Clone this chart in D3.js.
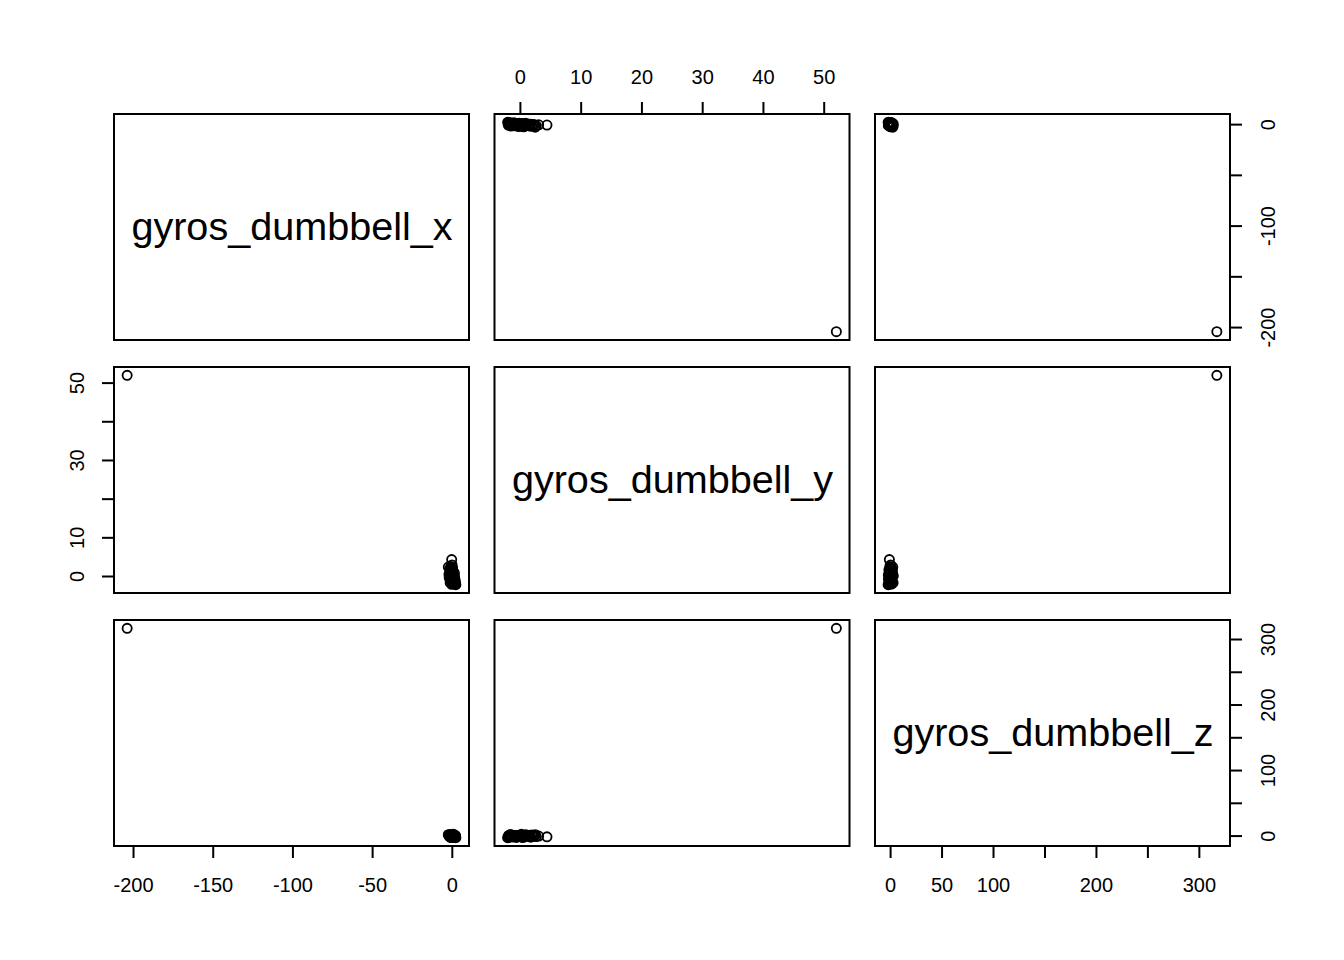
<!DOCTYPE html>
<html>
<head>
<meta charset="utf-8">
<script src="https://cdn.jsdelivr.net/npm/d3@7"></script>
<style>
html,body{margin:0;padding:0;background:#fff;}
svg{display:block;}
text{font-family:"Liberation Sans",Arial,Helvetica,sans-serif;fill:#000;}
</style>
</head>
<body>
<svg id="chart" width="1344" height="960"></svg>
<script>
// ---- data ----
const varNames = ["gyros_dumbbell_x", "gyros_dumbbell_y", "gyros_dumbbell_z"];
const gyrosX = [-204.00, -0.40, 0.00, 0.13, -0.21, 0.45, -0.53, 0.82, -0.90, 1.21, -1.31, 1.64, -1.70, 2.22, -2.50,
  0.35, -0.64, 1.02, -1.12, 0.58, -0.27, 1.45, -1.55, 0.08, 0.70, -0.95, 1.85, -1.95, 0.25, -0.45,
  1.30, -1.35, 0.95, -0.15, 1.70, -2.10, 0.50, -0.80, 2.00, -0.35, 0.15, 1.10, -0.02, 0.31, -0.12];
const gyrosY = [52.00, 4.37, 0.00, -0.16, 0.29, -0.52, 0.61, -0.88, 1.02, -1.35, 1.48, -1.72, 1.90, -2.10, 2.45,
  0.72, -0.48, 0.36, -0.95, 1.25, -1.40, -0.20, 0.10, 2.10, -1.85, 2.60, -1.05, -0.30, 1.70, -2.00,
  0.85, -1.60, -0.65, 3.00, -1.50, 0.55, 0.15, 0.40, -1.95, 1.05, -1.10, -1.70, 2.30, -0.80, 1.55];
const gyrosZ = [317.00, -1.20, 0.00, -0.20, 0.33, -0.44, 0.59, -0.79, 0.85, -1.10, 1.29, -1.51, 1.62, -2.38, 2.10,
  -0.95, 1.05, 0.50, -0.62, 0.18, -0.33, 0.75, -1.05, 0.42, 1.40, -0.70, 0.28, 0.90, -1.65, -1.80,
  1.95, 2.40, -2.10, 0.05, -0.55, 0.20, 2.60, -2.20, 0.60, 1.20, -1.35, 0.95, -0.25, 0.70, -0.45];

const xTicks = [-200, -150, -100, -50, 0];
const xBottomLabels = [-200, -150, -100, -50, 0];
const xRightLabels = [-200, -100, 0];
const yTicks = [0, 10, 20, 30, 40, 50];
const yTopLabels = [0, 10, 20, 30, 40, 50];
const yLeftLabels = [0, 10, 30, 50];
const zTicks = [0, 50, 100, 150, 200, 250, 300];
const zBottomLabels = [0, 50, 100, 200, 300];
const zRightLabels = [0, 100, 200, 300];

// ---- layout ----
const series = [gyrosX, gyrosY, gyrosZ];
const colLeft = [114, 494.5, 875];
const rowTop = [114, 367, 620];
const pw = 355, ph = 226;
const tickLen = 12;
const tickFont = 20;

const svg = d3.select("#chart");

function paddedDomain(arr) {
  const [a, b] = d3.extent(arr);
  const e = (b - a) * 0.04;
  return [a - e, b + e];
}
const domains = series.map(paddedDomain);
const hScale = i => d3.scaleLinear().domain(domains[i]).range([colLeft[i], colLeft[i] + pw]);
const vScale = i => d3.scaleLinear().domain(domains[i]).range([rowTop[i] + ph, rowTop[i]]);

// panels
for (let r = 0; r < 3; r++) {
  for (let c = 0; c < 3; c++) {
    const g = svg.append("g");
    if (r === c) {
      g.append("text")
        .attr("x", colLeft[c] + pw / 2 + 0.5)
        .attr("y", rowTop[r] + ph / 2 + 13)
        .attr("text-anchor", "middle")
        .style("font-size", "39.6px")
        .text(varNames[r]);
    } else {
      const xs = hScale(c), ys = vScale(r);
      const pts = d3.range(series[c].length).map(k => [series[c][k], series[r][k]]);
      g.selectAll("circle").data(pts).enter().append("circle")
        .attr("cx", d => xs(d[0]))
        .attr("cy", d => ys(d[1]))
        .attr("r", 4.6)
        .attr("fill", "none")
        .attr("stroke", "#000")
        .attr("stroke-width", 1.8);
    }
    g.append("rect")
      .attr("x", colLeft[c]).attr("y", rowTop[r])
      .attr("width", pw).attr("height", ph)
      .attr("fill", "none").attr("stroke", "#000").attr("stroke-width", 2);
  }
}

// axes helpers
function hAxis(i, ticks, labels, side) {
  const s = hScale(i);
  const y0 = side === "bottom" ? rowTop[2] + ph : rowTop[0];
  const dir = side === "bottom" ? 1 : -1;
  const g = svg.append("g");
  g.append("line")
    .attr("x1", s(d3.min(ticks))).attr("x2", s(d3.max(ticks)))
    .attr("y1", y0).attr("y2", y0)
    .attr("stroke", "#000").attr("stroke-width", 2);
  g.selectAll("line.t").data(ticks).enter().append("line")
    .attr("class", "t")
    .attr("x1", d => s(d)).attr("x2", d => s(d))
    .attr("y1", y0).attr("y2", y0 + dir * tickLen)
    .attr("stroke", "#000").attr("stroke-width", 2);
  g.selectAll("text").data(labels).enter().append("text")
    .attr("x", d => s(d))
    .attr("y", side === "bottom" ? y0 + 46 : y0 - 30)
    .attr("text-anchor", "middle")
    .style("font-size", tickFont + "px")
    .text(d => d);
}
function vAxis(i, ticks, labels, side) {
  const s = vScale(i);
  const x0 = side === "left" ? colLeft[0] : colLeft[2] + pw;
  const dir = side === "left" ? -1 : 1;
  const g = svg.append("g");
  g.append("line")
    .attr("y1", s(d3.min(ticks))).attr("y2", s(d3.max(ticks)))
    .attr("x1", x0).attr("x2", x0)
    .attr("stroke", "#000").attr("stroke-width", 2);
  g.selectAll("line.t").data(ticks).enter().append("line")
    .attr("class", "t")
    .attr("y1", d => s(d)).attr("y2", d => s(d))
    .attr("x1", x0).attr("x2", x0 + dir * tickLen)
    .attr("stroke", "#000").attr("stroke-width", 2);
  const bx = side === "left" ? x0 - 30 : x0 + 45;
  g.selectAll("text").data(labels).enter().append("text")
    .attr("transform", d => `translate(${bx},${s(d)}) rotate(-90)`)
    .attr("text-anchor", "middle")
    .style("font-size", tickFont + "px")
    .text(d => d);
}

hAxis(0, xTicks, xBottomLabels, "bottom");
hAxis(2, zTicks, zBottomLabels, "bottom");
hAxis(1, yTicks, yTopLabels, "top");
vAxis(1, yTicks, yLeftLabels, "left");
vAxis(0, xTicks, xRightLabels, "right");
vAxis(2, zTicks, zRightLabels, "right");
</script>
</body>
</html>
